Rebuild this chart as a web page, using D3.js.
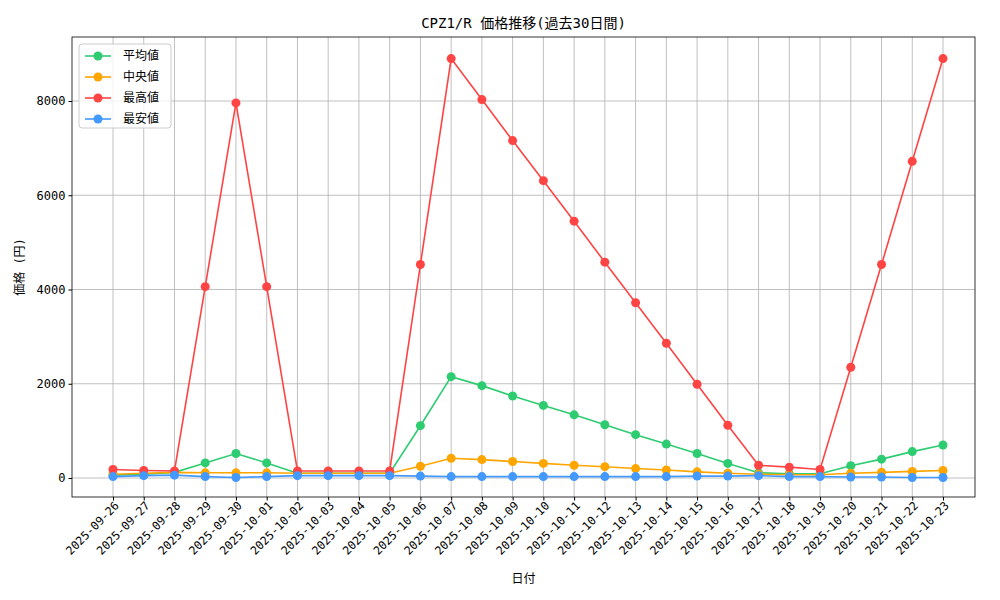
<!DOCTYPE html><html><head><meta charset="utf-8"><script src="https://cdn.jsdelivr.net/npm/d3@7"></script>
<style>body{margin:0;background:#fff}text{font-family:"DejaVu Sans Mono","Noto Sans CJK JP",monospace}</style></head><body><svg id="c" width="1000" height="600"></svg>
<script>
const dates=["2025-09-26","2025-09-27","2025-09-28","2025-09-29","2025-09-30","2025-10-01","2025-10-02","2025-10-03","2025-10-04","2025-10-05","2025-10-06","2025-10-07","2025-10-08","2025-10-09","2025-10-10","2025-10-11","2025-10-12","2025-10-13","2025-10-14","2025-10-15","2025-10-16","2025-10-17","2025-10-18","2025-10-19","2025-10-20","2025-10-21","2025-10-22","2025-10-23"];
const meanVals=[60,80,120,320,520,320,100,100,100,100,1110,2150,1960,1740,1540,1340,1130,920,720,520,310,110,90,90,260,400,560,700];
const medianVals=[80,100,120,110,110,110,100,100,100,100,250,420,390,350,310,270,240,200,170,130,100,80,70,70,100,120,140,160];
const maxVals=[180,160,150,4060,7960,4060,150,150,150,150,4530,8900,8030,7160,6310,5450,4580,3720,2860,1990,1120,270,230,180,2350,4530,6720,8900];
const minVals=[30,50,60,30,10,30,50,50,50,50,40,30,30,30,30,30,30,30,30,40,40,50,30,30,20,20,10,10];
const yTicks=[0,2000,4000,6000,8000];
const series=[["平均値",meanVals,"#2ecc71"],["中央値",medianVals,"#ffa500"],["最高値",maxVals,"#ff4444"],["最安値",minVals,"#4499ff"]];
const L=72,R=975,T=37,B=497;
const svg=d3.select("#c");
const x=d3.scalePoint().domain(dates).range([113,943]);
const y=d3.scaleLinear().domain([0,8000]).range([478,101]);
const g=svg.append("g");
g.selectAll(".vg").data(dates).join("line").attr("x1",d=>x(d)).attr("x2",d=>x(d)).attr("y1",T).attr("y2",B).attr("stroke","#b0b0b0").attr("stroke-width",0.8);
g.selectAll(".hg").data(yTicks).join("line").attr("x1",L).attr("x2",R).attr("y1",d=>y(d)).attr("y2",d=>y(d)).attr("stroke","#b0b0b0").attr("stroke-width",0.8);
const line=d3.line().x((d,i)=>x(dates[i])).y(d=>y(d));
series.forEach(([n,v,c])=>{
 svg.append("path").attr("d",line(v)).attr("fill","none").attr("stroke",c).attr("stroke-width",1.6);
 svg.selectAll(null).data(v).join("circle").attr("cx",(d,i)=>x(dates[i])).attr("cy",d=>y(d)).attr("r",4.5).attr("fill",c);
});
svg.append("rect").attr("x",L).attr("y",T).attr("width",R-L).attr("height",B-T).attr("fill","none").attr("stroke","#000").attr("stroke-width",0.8);
const ya=svg.append("g").attr("transform",`translate(${L},0)`).call(d3.axisLeft(y).tickValues(yTicks).tickSize(3.5).tickFormat(d3.format("d")));
const xa=svg.append("g").attr("transform",`translate(0,${B})`).call(d3.axisBottom(x).tickSize(3.5));
[ya,xa].forEach(a=>{a.select(".domain").remove();a.selectAll("text").attr("font-size",12).attr("fill","#000");});
xa.selectAll("text").attr("font-size",11.5).attr("text-anchor","end").attr("dx","-0.2em").attr("dy","0.4em").attr("transform","rotate(-45)");
svg.append("text").attr("x",(L+R)/2).attr("y",28).attr("text-anchor","middle").attr("font-size",14).text("CPZ1/R 価格推移(過去30日間)");
svg.append("text").attr("x",(L+R)/2).attr("y",583).attr("text-anchor","middle").attr("font-size",12).text("日付");
svg.append("text").attr("transform","translate(24,267) rotate(-90)").attr("text-anchor","middle").attr("font-size",12).text("価格 (円)");
const lg=svg.append("g").attr("transform","translate(79,44)");
lg.append("rect").attr("width",92).attr("height",84).attr("rx",3).attr("fill","#fff").attr("fill-opacity",0.8).attr("stroke","#ccc");
series.forEach(([n,v,c],i)=>{const yy=12+i*21;
 lg.append("line").attr("x1",6).attr("x2",32).attr("y1",yy).attr("y2",yy).attr("stroke",c).attr("stroke-width",1.6);
 lg.append("circle").attr("cx",19).attr("cy",yy).attr("r",4.5).attr("fill",c);
 lg.append("text").attr("x",44).attr("y",yy+4).attr("font-size",12).text(n);});
</script></body></html>
